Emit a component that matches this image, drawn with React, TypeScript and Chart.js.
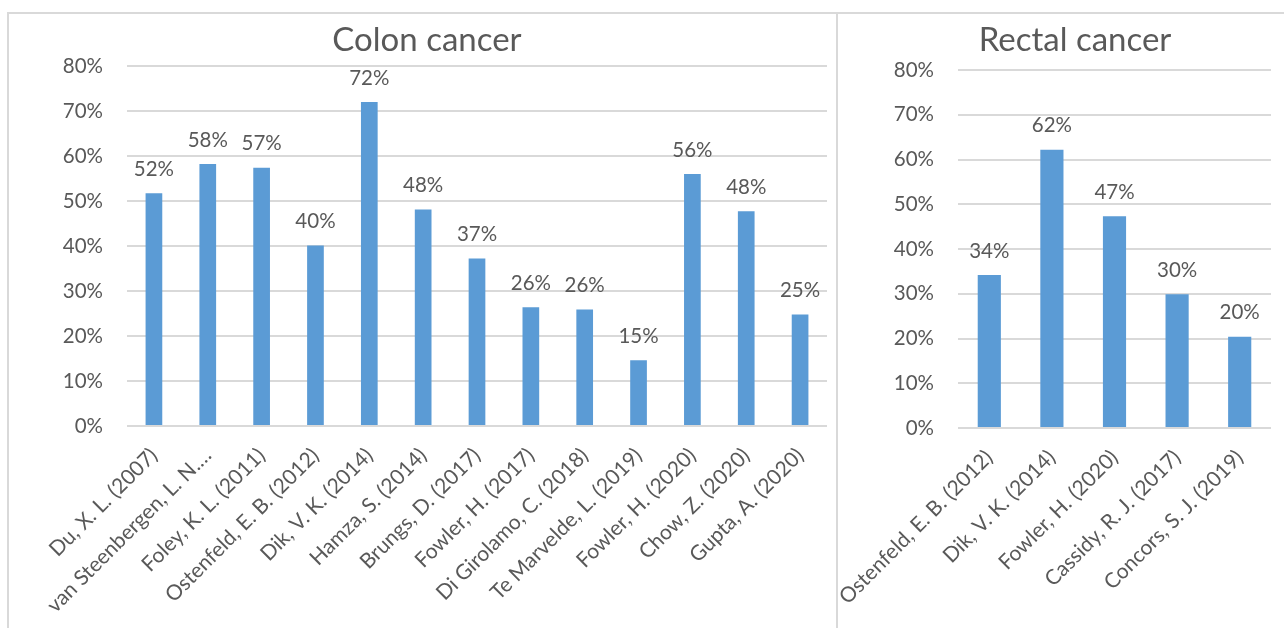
import React, { useEffect, useRef } from "react";
import { Chart, registerables } from "chart.js";

Chart.register(...registerables);

// Colon cancer studies and their reported rates (%)
const colonStudies = [
  "Du, X. L. (2007)",
  "van Steenbergen, L. N.…",
  "Foley, K. L. (2011)",
  "Ostenfeld, E. B. (2012)",
  "Dik, V. K. (2014)",
  "Hamza, S. (2014)",
  "Brungs, D. (2017)",
  "Fowler, H. (2017)",
  "Di Girolamo, C. (2018)",
  "Te Marvelde, L. (2019)",
  "Fowler, H. (2020)",
  "Chow, Z. (2020)",
  "Gupta, A. (2020)",
];
const colonRates = [51.7, 58.2, 57.4, 40.1, 72.0, 48.1, 37.2, 26.4, 25.9, 14.6, 56.0, 47.7, 24.8];

// Rectal cancer studies and their reported rates (%)
const rectalStudies = [
  "Ostenfeld, E. B. (2012)",
  "Dik, V. K. (2014)",
  "Fowler, H. (2020)",
  "Cassidy, R. J. (2017)",
  "Concors, S. J. (2019)",
];
const rectalRates = [34.2, 62.2, 47.3, 29.9, 20.4];

// Shared percentage axis
const yMax = 80;
const yStep = 10;

const FONT = "Lato, 'Open Sans', sans-serif";
const TEXT = "#595959";
const GRID = "#D9D9D9";
const BAR = "#5B9BD5";

type PanelProps = {
  title: string;
  labels: string[];
  values: number[];
  left: number;
  top: number;
  width: number;
  height: number;
  axisWidth: number;
  padRight: number;
  padTop: number;
  xAxisHeight: number;
  barPct: number;
  titleX: number;
  titleY: number;
};

function Panel(p: PanelProps) {
  const ref = useRef<HTMLCanvasElement | null>(null);

  useEffect(() => {
    if (!ref.current) return;

    const titlePlugin = {
      id: "panelTitle",
      afterDraw(chart: any) {
        const ctx = chart.ctx;
        ctx.save();
        ctx.font = `33px ${FONT}`;
        ctx.fillStyle = TEXT;
        ctx.textAlign = "center";
        ctx.textBaseline = "alphabetic";
        ctx.fillText(p.title, p.titleX, p.titleY);
        ctx.restore();
      },
    };

    const valueLabels = {
      id: "valueLabels",
      afterDatasetsDraw(chart: any) {
        const ctx = chart.ctx;
        const meta = chart.getDatasetMeta(0);
        ctx.save();
        ctx.font = `20.5px ${FONT}`;
        ctx.fillStyle = TEXT;
        ctx.textAlign = "center";
        ctx.textBaseline = "middle";
        meta.data.forEach((bar: any, i: number) => {
          ctx.fillText(`${Math.round(p.values[i])}%`, bar.x, bar.y - 24);
        });
        ctx.restore();
      },
    };

    const chart = new Chart(ref.current, {
      type: "bar",
      data: {
        labels: p.labels,
        datasets: [
          {
            data: p.values,
            backgroundColor: BAR,
            categoryPercentage: 1,
            barPercentage: p.barPct,
          },
        ],
      },
      options: {
        animation: false,
        responsive: false,
        maintainAspectRatio: false,
        layout: { padding: { top: p.padTop, right: p.padRight, left: 0, bottom: 0 } },
        plugins: {
          legend: { display: false },
          tooltip: { enabled: false },
          title: { display: false },
        },
        scales: {
          x: {
            grid: { display: false },
            border: { display: false },
            ticks: {
              color: TEXT,
              font: { family: FONT, size: 21 },
              minRotation: 45,
              maxRotation: 45,
              autoSkip: false,
              padding: 9,
            },
            afterFit: (s: any) => {
              // fixed axis band; rotated labels may overhang the plot edges freely
              s.height = p.xAxisHeight;
              s.paddingLeft = 0;
              s.paddingRight = 0;
            },
          },
          y: {
            min: 0,
            max: yMax,
            grid: { color: GRID, lineWidth: 2, drawTicks: false },
            border: { display: false },
            ticks: {
              stepSize: yStep,
              padding: 24,
              color: TEXT,
              font: { family: FONT, size: 20.5 },
              callback: (v: any) => `${v}%`,
            },
            afterFit: (s: any) => {
              s.width = p.axisWidth;
            },
          },
        },
      },
      plugins: [titlePlugin, valueLabels],
    });

    return () => chart.destroy();
  }, []);

  return (
    <canvas
      ref={ref}
      width={p.width}
      height={p.height}
      style={{ position: "absolute", left: p.left, top: p.top, width: p.width, height: p.height }}
    />
  );
}

export default function App() {
  return (
    <div
      style={{
        position: "fixed",
        left: 0,
        top: 0,
        width: 1284,
        height: 628,
        overflow: "hidden",
        background: "#fff",
      }}
    >
      <div
        style={{
          position: "absolute",
          left: 7,
          top: 12,
          width: 831,
          height: 700,
          boxSizing: "border-box",
          border: `2px solid ${GRID}`,
        }}
      />
      <div
        style={{
          position: "absolute",
          left: 836,
          top: 12,
          width: 500,
          height: 700,
          boxSizing: "border-box",
          border: `2px solid ${GRID}`,
        }}
      />
      <Panel
        title="Colon cancer"
        labels={colonStudies}
        values={colonRates}
        left={9}
        top={14}
        width={827}
        height={614}
        axisWidth={118}
        padRight={9}
        padTop={52}
        xAxisHeight={202}
        barPct={0.31}
        titleX={418}
        titleY={37}
      />
      <Panel
        title="Rectal cancer"
        labels={rectalStudies}
        values={rectalRates}
        left={838}
        top={14}
        width={476}
        height={614}
        axisWidth={120}
        padRight={43}
        padTop={56}
        xAxisHeight={200}
        barPct={0.37}
        titleX={237}
        titleY={37}
      />
    </div>
  );
}
